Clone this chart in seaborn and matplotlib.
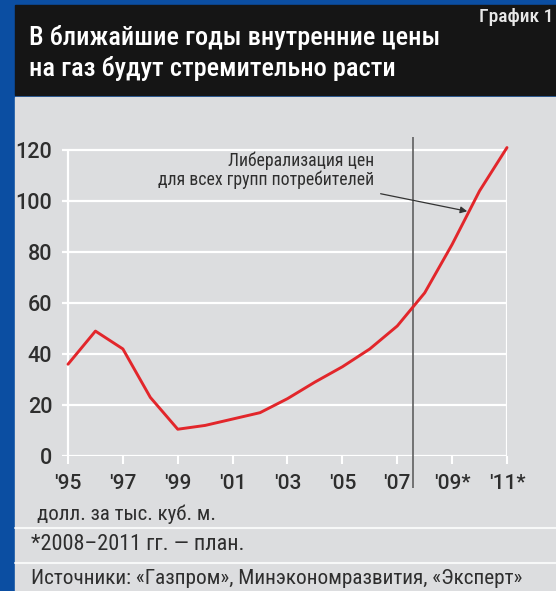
import matplotlib
matplotlib.use("Agg")
import matplotlib.pyplot as plt
from matplotlib.patches import Rectangle
import pandas as pd
import seaborn as sns

# data (USD per 1000 m3)
years = list(range(1995, 2012))
prices = [36, 49, 42, 23, 10.5, 12, 14.5, 17, 22.5, 29, 35, 42, 51, 64, 83, 104, 121]
tick_years = [1995, 1997, 1999, 2001, 2003, 2005, 2007, 2009, 2011]
tick_labels = ["'95", "'97", "'99", "'01", "'03", "'05", "'07", "'09*", "'11*"]
y_ticks = [0, 20, 40, 60, 80, 100, 120]
liberalization_year = 2007.58

title = "В ближайшие годы внутренние цены\nна газ будут стремительно расти"
badge = "График 1"
note_text = "Либерализация цен\nдля всех групп потребителей"
unit_text = "долл. за тыс. куб. м."
plan_text = "*2008–2011 гг. — план."
source_text = "Источники: «Газпром», Минэкономразвития, «Эксперт»"

BLUE = "#0b4ea2"
BLACK = "#151515"
GRAY = "#dcdddf"
RED = "#e2262b"
TEXT = "#2e2e2e"

W, H = 556, 591

sns.set_theme(style="white")
plt.rcParams['font.family'] = ['Roboto Condensed', 'Roboto', 'DejaVu Sans']
TICK_FONT = ['Roboto', 'DejaVu Sans']


def fx(px):
    return px / W


def fy(py):
    return 1 - py / H


fig = plt.figure(figsize=(W / 100, H / 100), dpi=100)
fig.patch.set_facecolor(BLUE)

# panels (behind the axes)
fig.patches.append(Rectangle((fx(15), fy(591)), fx(541), 591 / H - 97 / H,
                             transform=fig.transFigure, color=GRAY, zorder=-2))
fig.patches.append(Rectangle((fx(15), fy(95)), fx(541), 90 / H,
                             transform=fig.transFigure, color=BLACK, zorder=-2))
for yy in (528, 563):
    fig.lines.append(plt.Line2D([fx(15), 1], [fy(yy), fy(yy)], transform=fig.transFigure,
                                color="white", lw=1.5, alpha=0.8, zorder=-1))

fig.text(fx(29), fy(53), title, color="white", fontsize=19, va="center", ha="left",
         linespacing=1.3, fontweight="medium")
fig.text(fx(553), fy(17), badge, color="#e8e8e8", fontsize=14, va="center", ha="right",
         fontweight="medium")

# plot area: 1995 -> x=68px, 2011 -> x=507px, 0 -> y=456px, 120 -> y=150px
x0 = 1995 - 6 / 27.44
ax = fig.add_axes([fx(62), fy(456), fx(507 - 62), (456 - 145) / H])
ax.set_xlim(x0, 2011)
ax.set_ylim(0, 122)
ax.set_facecolor("none")
for s in ax.spines.values():
    s.set_visible(False)

for v in y_ticks:
    ax.axhline(v, color="white", lw=1.6, zorder=1)
ax.vlines([1995, 2011], 0, 120, color="white", lw=1.6, zorder=1)

df = pd.DataFrame({"year": years, "price": prices})
sns.lineplot(data=df, x="year", y="price", ax=ax, color=RED, lw=2.1, zorder=4,
             legend=False)
ax.lines[-1].set_clip_on(False)

ax.vlines(liberalization_year, -12.5, 125, color="#606060", lw=1.2, zorder=3, clip_on=False)

ax.set_xticks(tick_years)
ax.set_xticklabels(tick_labels)
ax.set_yticks(y_ticks)
ax.tick_params(axis="x", length=6, width=1.5, color="white", pad=7, labelsize=15,
               labelcolor=TEXT, bottom=True)
ax.tick_params(axis="y", length=0, pad=7, labelsize=15.5, labelcolor=TEXT)
for lab in ax.get_xticklabels() + ax.get_yticklabels():
    lab.set_family(TICK_FONT)
    lab.set_fontweight("medium")
ax.set_xlabel("")
ax.set_ylabel("")

ax.annotate(note_text, xy=(2009.55, 96), xytext=(2006.15, 112),
            ha="right", va="center", fontsize=12.8, color=TEXT, linespacing=1.05,
            arrowprops=dict(arrowstyle="-|>", color="#333333", lw=0.9,
                            shrinkA=4, shrinkB=0, mutation_scale=10))

fig.text(fx(37), fy(514), unit_text, color=TEXT, fontsize=15, va="center", ha="left")
fig.text(fx(31), fy(545), plan_text, color=TEXT, fontsize=16, va="center", ha="left")
fig.text(fx(31), fy(579), source_text, color=TEXT, fontsize=15.3, va="center", ha="left")

fig.savefig("out.png", dpi=100, facecolor=fig.get_facecolor())
